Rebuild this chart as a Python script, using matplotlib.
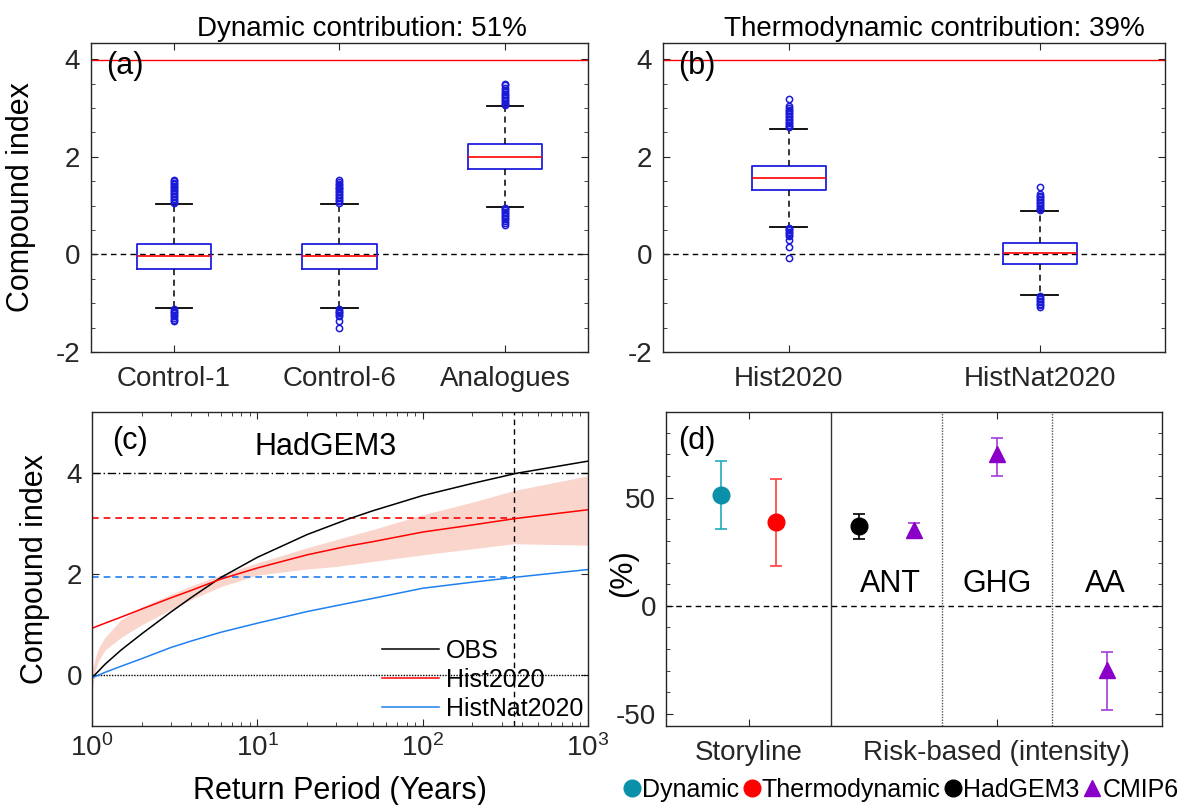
import numpy as np
import matplotlib.pyplot as plt
from matplotlib.lines import Line2D
from matplotlib.ticker import MultipleLocator, LogLocator, NullFormatter

plt.rcParams['font.family'] = ['Liberation Sans', 'DejaVu Sans']
plt.rcParams['mathtext.fontset'] = 'custom'
plt.rcParams['mathtext.rm'] = 'Liberation Sans'
plt.rcParams['mathtext.default'] = 'regular'
plt.rcParams['axes.unicode_minus'] = False
plt.rcParams['axes.edgecolor'] = '#262626'
plt.rcParams['xtick.color'] = '#262626'
plt.rcParams['ytick.color'] = '#262626'

# ---- data ----
obs_event = 3.98

# (a) boxplots
names_a = ['Control-1', 'Control-6', 'Analogues']
q1_a = [-0.30, -0.30, 1.74]
med_a = [-0.04, -0.03, 1.99]
q3_a = [0.22, 0.22, 2.26]
wlo_a = [-1.10, -1.09, 0.98]
whi_a = [1.03, 1.04, 3.03]
fliers_a = [
    [1.05, 1.08, 1.11, 1.14, 1.17, 1.20, 1.23, 1.26, 1.29, 1.32, 1.35, 1.38, 1.41, 1.44, 1.47, 1.50, 1.53,
     -1.12, -1.15, -1.18, -1.21, -1.24, -1.27, -1.30, -1.34, -1.37],
    [1.06, 1.09, 1.12, 1.15, 1.18, 1.21, 1.24, 1.27, 1.30, 1.33, 1.36, 1.39, 1.42, 1.45, 1.48, 1.52,
     -1.12, -1.15, -1.18, -1.21, -1.24, -1.27, -1.36, -1.50],
    [3.05, 3.08, 3.11, 3.14, 3.17, 3.20, 3.23, 3.26, 3.29, 3.32, 3.36, 3.41, 3.46, 3.50,
     0.96, 0.93, 0.90, 0.87, 0.84, 0.81, 0.78, 0.75, 0.72, 0.69, 0.65, 0.60],
]

# (b) boxplots
names_b = ['Hist2020', 'HistNat2020']
q1_b = [1.32, -0.19]
med_b = [1.57, 0.03]
q3_b = [1.81, 0.24]
wlo_b = [0.57, -0.84]
whi_b = [2.57, 0.88]
fliers_b = [
    [2.60, 2.63, 2.66, 2.69, 2.72, 2.75, 2.78, 2.81, 2.84, 2.87, 2.90, 2.93, 2.96, 2.99, 3.03, 3.19,
     0.55, 0.52, 0.49, 0.46, 0.43, 0.40, 0.37, 0.30, 0.16, -0.07],
    [0.90, 0.93, 0.96, 0.99, 1.02, 1.05, 1.08, 1.11, 1.14, 1.17, 1.20, 1.23, 1.39,
     -0.86, -0.89, -0.92, -0.95, -0.98, -1.01, -1.04, -1.07],
]

# (c) return level curves
rp = [1, 1.2, 1.5, 2, 3, 4, 6, 10, 20, 35, 50, 100, 200, 370, 1000]
obs_curve = [-0.05, 0.22, 0.50, 0.82, 1.25, 1.54, 1.93, 2.33, 2.78, 3.08, 3.25, 3.55, 3.79, 3.99, 4.23]
hist_curve = [0.93, 1.03, 1.15, 1.31, 1.53, 1.68, 1.90, 2.12, 2.38, 2.55, 2.64, 2.83, 2.97, 3.10, 3.27]
nat_curve = [-0.05, 0.06, 0.18, 0.33, 0.55, 0.68, 0.85, 1.03, 1.26, 1.42, 1.52, 1.72, 1.84, 1.94, 2.09]
rp_band = [1, 1.05, 1.1, 1.2, 1.5, 2, 3, 4, 6, 10, 20, 30, 50, 100, 200, 357, 1000]
band_lo = [-0.30, 0.10, 0.30, 0.50, 0.75, 1.00, 1.30, 1.50, 1.75, 1.98, 2.10, 2.15, 2.25, 2.38, 2.50, 2.60, 2.57]
band_hi = [0.10, 0.35, 0.55, 0.75, 1.10, 1.35, 1.60, 1.77, 1.98, 2.22, 2.52, 2.68, 2.88, 3.17, 3.42, 3.65, 3.94]
rp_obs = 357
hist_at_obs = 3.10
nat_at_obs = 1.94

# (d) contributions (%)
labels_d = ['Dynamic', 'Thermodynamic', 'HadGEM3 ANT', 'CMIP6 ANT', 'CMIP6 GHG', 'CMIP6 AA']
val_d = [51.0, 38.5, 37.0, 35.2, 70.3, -29.4]
lo_d = [35.5, 18.5, 31.0, 33.3, 60.1, -48.2]
hi_d = [66.7, 58.6, 42.4, 38.2, 77.5, -21.4]

# ---- figure ----
fig = plt.figure(figsize=(11.91, 8.05), dpi=100)
ax_a = fig.add_axes([0.0764, 0.5627, 0.4173, 0.3839])
ax_b = fig.add_axes([0.5567, 0.5627, 0.4215, 0.3839])
ax_c = fig.add_axes([0.0772, 0.0981, 0.4165, 0.3901])
ax_d = fig.add_axes([0.5592, 0.0981, 0.4165, 0.3901])

tick_fs = 20
lab_fs = 22


def style_ax(ax):
    ax.tick_params(which='both', direction='in', top=True, right=True, labelsize=tick_fs)
    ax.tick_params(which='major', length=5)
    ax.tick_params(which='minor', length=3)
    for s in ax.spines.values():
        s.set_linewidth(1.0)


def draw_boxes(ax, names, q1, med, q3, wlo, whi, fliers, width, capw):
    stats = []
    for i in range(len(names)):
        stats.append(dict(label=names[i], q1=q1[i], med=med[i], q3=q3[i],
                          whislo=wlo[i], whishi=whi[i], fliers=fliers[i]))
    pos = np.arange(1, len(names) + 1)
    ax.bxp(stats, positions=pos, widths=width, capwidths=capw,
           boxprops=dict(color='#1f1fe0', lw=1.3),
           medianprops=dict(color='#ff0000', lw=1.2),
           whiskerprops=dict(color='black', lw=1.1, ls=(0, (4, 3))),
           capprops=dict(color='black', lw=1.3),
           flierprops=dict(marker='o', markerfacecolor='none', markeredgecolor='#1a1ad8',
                           markersize=4.5, markeredgewidth=1.1))
    ax.axhline(0, color='black', lw=1.0, ls=(0, (4, 3)), zorder=0)
    ax.axhline(obs_event, color='#ff0000', lw=1.0)
    ax.set_ylim(-2, 4.33)
    ax.set_xlim(0.5, len(names) + 0.5)
    ax.set_yticks([-2, 0, 2, 4])
    ax.yaxis.set_minor_locator(MultipleLocator(0.5))
    style_ax(ax)
    ax.tick_params(axis='x', pad=10)
    ax.tick_params(axis='y', pad=8)


# (a)
draw_boxes(ax_a, names_a, q1_a, med_a, q3_a, wlo_a, whi_a, fliers_a, 0.45, 0.22)
ax_a.set_ylabel('Compound index', fontsize=lab_fs)
ax_a.yaxis.set_label_coords(-0.11, 0.5)
ax_a.set_title('Dynamic contribution: 51%', fontsize=20, x=0.545, pad=5)
ax_a.text(0.03, 0.975, '(a)', transform=ax_a.transAxes, fontsize=lab_fs, va='top', ha='left')

# (b)
draw_boxes(ax_b, names_b, q1_b, med_b, q3_b, wlo_b, whi_b, fliers_b, 0.295, 0.147)
ax_b.set_title('Thermodynamic contribution: 39%', fontsize=20, x=0.54, pad=5)
ax_b.text(0.03, 0.975, '(b)', transform=ax_b.transAxes, fontsize=lab_fs, va='top', ha='left')

# (c)
ax_c.fill_between(rp_band, band_lo, band_hi, color='#f9d5cc', lw=0)
ax_c.axhline(obs_event + 0.02, color='black', lw=1.0, ls=(0, (6, 2, 1, 2)))
ax_c.axhline(0, color='black', lw=1.0, ls=(0, (1, 1)))
ax_c.plot([1, rp_obs], [hist_at_obs, hist_at_obs], color='#ff0000', lw=1.2, ls=(0, (4, 3)))
ax_c.plot([1, rp_obs], [nat_at_obs, nat_at_obs], color='#1f80f0', lw=1.2, ls=(0, (4, 3)))
ax_c.axvline(rp_obs, color='black', lw=1.0, ls=(0, (4, 3)))
ax_c.plot(rp, obs_curve, color='black', lw=1.1, label='OBS')
ax_c.plot(rp, hist_curve, color='#ff0000', lw=1.1, label='Hist2020')
ax_c.plot(rp, nat_curve, color='#1f80f0', lw=1.1, label='HistNat2020')
ax_c.set_xscale('log')
ax_c.set_xlim(1, 1000)
ax_c.set_ylim(-1, 5.2)
ax_c.set_yticks([0, 2, 4])
ax_c.xaxis.set_major_locator(LogLocator(base=10, numticks=10))
ax_c.xaxis.set_minor_locator(LogLocator(base=10, subs=np.arange(2, 10), numticks=10))
ax_c.xaxis.set_minor_formatter(NullFormatter())
style_ax(ax_c)
ax_c.tick_params(axis='x', pad=6)
ax_c.tick_params(axis='y', pad=7)
ax_c.set_ylabel('Compound index', fontsize=lab_fs)
ax_c.yaxis.set_label_coords(-0.084, 0.5)
ax_c.set_xlabel('Return Period (Years)', fontsize=lab_fs)
ax_c.xaxis.set_label_coords(0.5, -0.16)
ax_c.text(26, 4.51, 'HadGEM3', fontsize=lab_fs, ha='center', va='center')
ax_c.text(0.04, 0.955, '(c)', transform=ax_c.transAxes, fontsize=lab_fs, va='top', ha='left')
ax_c.legend(loc='lower right', frameon=False, fontsize=18, handlelength=2.3,
            handletextpad=0.25, labelspacing=0.2, borderaxespad=0.1, borderpad=0.1)

# (d)
xpos_d = [1, 2, 3.5, 4.5, 6, 8]
mcol = ['#0a90a8', '#ff0000', 'black', '#8a00c8', '#8a00c8', '#8a00c8']
ecol = ['#22aabb', '#ff4040', 'black', '#a63cd8', '#a63cd8', '#a63cd8']
mk = ['o', 'o', 'o', '^', '^', '^']
for i in range(len(val_d)):
    ax_d.errorbar(xpos_d[i], val_d[i], yerr=[[val_d[i] - lo_d[i]], [hi_d[i] - val_d[i]]],
                  fmt=mk[i], color=mcol[i], ecolor=ecol[i], markersize=12,
                  elinewidth=1.2, capsize=4, capthick=1.2)
ax_d.axhline(0, color='black', lw=1.0, ls=(0, (4, 3)))
ax_d.axvline(3, color='#333333', lw=1.0)
ax_d.axvline(5, color='#555555', lw=1.0, ls=(0, (1, 1)))
ax_d.axvline(7, color='#555555', lw=1.0, ls=(0, (1, 1)))
ax_d.text(4.07, 10, 'ANT', fontsize=lab_fs, ha='center', va='center')
ax_d.text(6.0, 10, 'GHG', fontsize=lab_fs, ha='center', va='center')
ax_d.text(7.97, 10, 'AA', fontsize=lab_fs, ha='center', va='center')
ax_d.set_xlim(0, 9)
ax_d.set_ylim(-55.5, 89.5)
ax_d.set_yticks([-50, 0, 50])
ax_d.yaxis.set_minor_locator(MultipleLocator(10))
ax_d.set_xticks([1.5, 6])
ax_d.set_xticklabels(['Storyline', 'Risk-based (intensity)'])
style_ax(ax_d)
ax_d.tick_params(axis='x', pad=10)
ax_d.tick_params(axis='y', pad=7)
ax_d.set_ylabel('(%)', fontsize=lab_fs)
ax_d.yaxis.set_label_coords(-0.056, 0.487)
ax_d.text(0.025, 0.955, '(d)', transform=ax_d.transAxes, fontsize=lab_fs, va='top', ha='left')

handles = [Line2D([], [], ls='none', marker='o', color='#0a90a8', markersize=12),
           Line2D([], [], ls='none', marker='o', color='#ff0000', markersize=12),
           Line2D([], [], ls='none', marker='o', color='black', markersize=12),
           Line2D([], [], ls='none', marker='^', color='#8a00c8', markersize=12)]
fig.legend(handles, ['Dynamic', 'Thermodynamic', 'HadGEM3', 'CMIP6'], loc='center',
           bbox_to_anchor=(0.757, 0.019), ncol=4, frameon=False, fontsize=18,
           handlelength=0.6, handletextpad=0.1, columnspacing=0.2, borderpad=0)

fig.savefig('out.png', dpi=100)
